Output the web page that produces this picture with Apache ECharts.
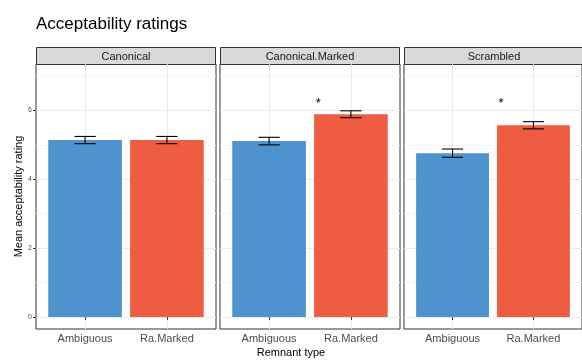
<!DOCTYPE html>
<html>
<head>
<meta charset="utf-8">
<script src="https://cdn.jsdelivr.net/npm/echarts@6/dist/echarts.min.js"></script>
<style>
  html, body { margin: 0; padding: 0; background: #fff; }
  #chart { width: 582px; height: 360px; }
</style>
</head>
<body>
<div id="chart"></div>
<script>
// Facets (sentence structure) and bars within each facet (remnant type)
const panels = ['Canonical', 'Canonical.Marked', 'Scrambled'];
const remnantTypes = ['Ambiguous', 'Ra.Marked'];

// Mean ratings and standard errors per facet
const meanAmbiguous = [5.14, 5.11, 4.76];
const meanRaMarked  = [5.14, 5.89, 5.57];
const seAmbiguous   = [0.105, 0.11, 0.12];
const seRaMarked    = [0.105, 0.10, 0.105];

// Significance markers: one flag per facet, placed between the bars
const starShown = [false, true, true];
const starPos = [1.6, 6.3];

// Y axis ticks
const yMajorTicks = [0, 2, 4, 6];
const yGridTicks = [0, 1, 2, 3, 4, 5, 6, 7];

const barColors = ['#4d93cd', '#ee5c41'];
const FONT = 'Liberation Sans, Arial, Helvetica, sans-serif';

// Layout of the three facet panels
const panelLeft = [36, 220, 404];
const panelWidth = 180;
const panelTop = 64;
const panelHeight = 265;
const stripHeight = 17;

const chart = echarts.init(document.getElementById('chart'), null, { renderer: 'canvas' });

const grids = [], xAxes = [], yAxes = [], series = [], graphics = [];

panels.forEach((name, i) => {
  grids.push({
    left: panelLeft[i], top: panelTop, width: panelWidth, height: panelHeight,
    show: true, backgroundColor: '#ffffff', borderColor: '#333333', borderWidth: 1,
    containLabel: false
  });

  xAxes.push({
    type: 'value', gridIndex: i, min: 0.4, max: 2.6,
    axisLine: { show: false },
    axisTick: { show: true, customValues: [1, 2], length: 3, lineStyle: { color: '#333333', width: 1 } },
    axisLabel: {
      customValues: [1, 2], margin: 4,
      fontFamily: FONT, fontSize: 11, color: '#4d4d4d',
      formatter: v => remnantTypes[Math.round(v) - 1] || ''
    },
    splitLine: { show: true, lineStyle: { color: '#ebebeb', width: 1 } }
  });

  // Grid lines at every integer; major (even) lines darker than minor ones
  yAxes.push({
    type: 'value', gridIndex: i, min: -0.35, max: 7.35,
    axisLine: { show: false },
    axisTick: { show: false, customValues: yGridTicks },
    axisLabel: { show: false, customValues: yMajorTicks },
    splitLine: { show: true, lineStyle: { color: ['#ebebeb', '#f4f4f4'], width: 1 } }
  });

  const rows = [
    [1, meanAmbiguous[i], seAmbiguous[i]],
    [2, meanRaMarked[i], seRaMarked[i]]
  ];

  series.push({
    type: 'custom', xAxisIndex: i, yAxisIndex: i,
    data: rows,
    renderItem: (params, api) => {
      const x = api.value(0), m = api.value(1), se = api.value(2);
      const tl = api.coord([x - 0.45, m]);
      const br = api.coord([x + 0.45, 0]);
      const hi = api.coord([x, m + se]);
      const lo = api.coord([x, m - se]);
      const capL = api.coord([x - 0.13, 0])[0];
      const capR = api.coord([x + 0.13, 0])[0];
      const ls = { stroke: '#000000', lineWidth: 1.1 };
      return {
        type: 'group',
        children: [
          { type: 'rect', shape: { x: tl[0], y: tl[1], width: br[0] - tl[0], height: br[1] - tl[1] },
            style: { fill: barColors[x - 1] } },
          { type: 'line', shape: { x1: hi[0], y1: hi[1], x2: lo[0], y2: lo[1] }, style: ls },
          { type: 'line', shape: { x1: capL, y1: hi[1], x2: capR, y2: hi[1] }, style: ls },
          { type: 'line', shape: { x1: capL, y1: lo[1], x2: capR, y2: lo[1] }, style: ls }
        ]
      };
    }
  });

  if (starShown[i]) {
    series.push({
      type: 'custom', xAxisIndex: i, yAxisIndex: i,
      data: [starPos],
      renderItem: (params, api) => {
        const p = api.coord([api.value(0), api.value(1)]);
        return {
          type: 'text', x: p[0], y: p[1] + 3,
          style: { text: '*', fontFamily: FONT, fontSize: 13, fill: '#000000',
                   align: 'center', verticalAlign: 'middle' }
        };
      }
    });
  }

  // Facet strip
  graphics.push({
    type: 'group', left: panelLeft[i], top: panelTop - stripHeight,
    children: [
      { type: 'rect', shape: { x: 0.5, y: 0.5, width: panelWidth - 1, height: stripHeight },
        style: { fill: '#d9d9d9', stroke: '#333333', lineWidth: 1 } },
      { type: 'text', x: panelWidth / 2, y: stripHeight / 2 + 1,
        style: { text: name, fontFamily: FONT, fontSize: 11, fill: '#1a1a1a',
                 align: 'center', verticalAlign: 'middle' } }
    ]
  });
});

// Tick labels and tick marks on the left edge of the first panel
xAxes.push({ type: 'value', gridIndex: 0, min: 0.4, max: 2.6, show: false });
yAxes.push({
  type: 'value', gridIndex: 0, min: -0.35, max: 7.35, position: 'left',
  axisLine: { show: false },
  axisTick: { show: true, customValues: yMajorTicks, length: 3, lineStyle: { color: '#333333', width: 1 } },
  axisLabel: { customValues: yMajorTicks, margin: 4, fontFamily: FONT, fontSize: 7, color: '#4d4d4d' },
  splitLine: { show: false },
  name: 'Mean acceptability rating', nameLocation: 'middle', nameGap: 12,
  nameTextStyle: { fontFamily: FONT, fontSize: 11, color: '#000000' }
});

graphics.push({
  type: 'text', left: 'center', top: 347,
  style: { text: 'Remnant type', fontFamily: FONT, fontSize: 11, fill: '#000000' },
  x: 0
});

chart.setOption({
  animation: false,
  backgroundColor: '#ffffff',
  title: {
    text: 'Acceptability ratings', left: 36, top: 16, padding: 0,
    textStyle: { fontFamily: FONT, fontSize: 17, fontWeight: 'normal', color: '#000000' }
  },
  grid: grids,
  xAxis: xAxes,
  yAxis: yAxes,
  series: series,
  graphic: graphics
});
</script>
</body>
</html>
